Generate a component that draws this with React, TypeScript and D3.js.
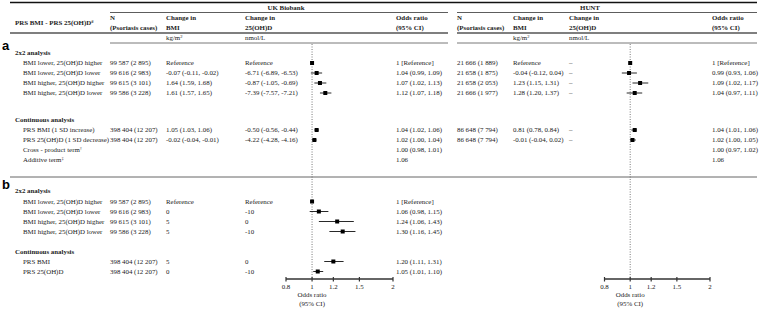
import React from "react";
import * as d3 from "d3";

// ---------- DATA ----------
const labels2x2 = [
  "BMI lower, 25(OH)D higher",
  "BMI lower, 25(OH)D lower",
  "BMI higher, 25(OH)D higher",
  "BMI higher, 25(OH)D lower",
];
const labelsContA = ["PRS BMI (1 SD increase)", "PRS 25(OH)D (1 SD decrease)", "Cross - product term", "Additive term"];
const labelsContASup = ["", "", "†", "‡"];
const labelsContB = ["PRS BMI", "PRS 25(OH)D"];

// Panel a, UK Biobank
const ukN2x2 = ["99 587 (2 895)", "99 616 (2 983)", "99 615 (3 101)", "99 586 (3 228)"];
const ukBmi2x2 = ["Reference", "-0.07 (-0.11, -0.02)", "1.64 (1.59, 1.68)", "1.61 (1.57, 1.65)"];
const ukVitD2x2 = ["Reference", "-6.71 (-6.89, -6.53)", "-0.87 (-1.05, -0.69)", "-7.39 (-7.57, -7.21)"];
const ukOr2x2 = [1, 1.04, 1.07, 1.12];
const ukLo2x2 = [null, 0.99, 1.02, 1.07];
const ukHi2x2 = [null, 1.09, 1.13, 1.18];
const ukOrText2x2 = ["1 [Reference]", "1.04 (0.99, 1.09)", "1.07 (1.02, 1.13)", "1.12 (1.07, 1.18)"];

const ukNCont = ["398 404 (12 207)", "398 404 (12 207)", "", ""];
const ukBmiCont = ["1.05 (1.03, 1.06)", "-0.02 (-0.04, -0.01)", "", ""];
const ukVitDCont = ["-0.50 (-0.56, -0.44)", "-4.22 (-4.28, -4.16)", "", ""];
const ukOrCont = [1.04, 1.02, null, null];
const ukLoCont = [1.02, 1.0, null, null];
const ukHiCont = [1.06, 1.04, null, null];
const ukOrTextCont = ["1.04 (1.02, 1.06)", "1.02 (1.00, 1.04)", "1.00 (0.98, 1.01)", "1.06"];

// Panel a, HUNT
const huntN2x2 = ["21 666 (1 889)", "21 658 (1 875)", "21 658 (2 053)", "21 666 (1 977)"];
const huntBmi2x2 = ["Reference", "-0.04 (-0.12, 0.04)", "1.23 (1.15, 1.31)", "1.28 (1.20, 1.37)"];
const huntVitD2x2 = ["–", "–", "–", "–"];
const huntOr2x2 = [1, 0.99, 1.09, 1.04];
const huntLo2x2 = [null, 0.93, 1.02, 0.97];
const huntHi2x2 = [null, 1.06, 1.17, 1.11];
const huntOrText2x2 = ["1 [Reference]", "0.99 (0.93, 1.06)", "1.09 (1.02, 1.17)", "1.04 (0.97, 1.11)"];

const huntNCont = ["86 648 (7 794)", "86 648 (7 794)", "", ""];
const huntBmiCont = ["0.81 (0.78, 0.84)", "-0.01 (-0.04, 0.02)", "", ""];
const huntVitDCont = ["–", "–", "", ""];
const huntOrCont = [1.04, 1.02, null, null];
const huntLoCont = [1.01, 1.0, null, null];
const huntHiCont = [1.06, 1.05, null, null];
const huntOrTextCont = ["1.04 (1.01, 1.06)", "1.02 (1.00, 1.05)", "1.00 (0.97, 1.02)", "1.06"];

// Panel b (UK Biobank only)
const bN2x2 = ["99 587 (2 895)", "99 616 (2 983)", "99 615 (3 101)", "99 586 (3 228)"];
const bBmi2x2 = ["Reference", "0", "5", "5"];
const bVitD2x2 = ["Reference", "-10", "0", "-10"];
const bOr2x2 = [1, 1.06, 1.24, 1.3];
const bLo2x2 = [null, 0.98, 1.06, 1.16];
const bHi2x2 = [null, 1.15, 1.43, 1.45];
const bOrText2x2 = ["1 [Reference]", "1.06 (0.98, 1.15)", "1.24 (1.06, 1.43)", "1.30 (1.16, 1.45)"];

const bNCont = ["398 404 (12 207)", "398 404 (12 207)"];
const bBmiCont = ["5", "0"];
const bVitDCont = ["0", "-10"];
const bOrCont = [1.2, 1.05];
const bLoCont = [1.11, 1.01];
const bHiCont = [1.31, 1.1];
const bOrTextCont = ["1.20 (1.11, 1.31)", "1.05 (1.01, 1.10)"];

const tickValues = [0.8, 1, 1.2, 1.5, 2];

// ---------- LAYOUT ----------
const W = 765;
const H = 310;
const FONT = "'Liberation Serif', 'Times New Roman', serif";
const FS = 6.9;
const TXT = "#222";

const xUK = d3.scaleLog().domain([0.8, 2]).range([286, 393]);
const xHU = d3.scaleLog().domain([0.8, 2]).range([604.5, 710]);

const rowStep = 10;
const secA2 = { head: 53, first: 63 };
const secAC = { head: 119.5, first: 130 };
const secB2 = { head: 190.5, first: 201.5 };
const secBC = { head: 251.5, first: 261.5 };
const rowY = (sec: { first: number }, i: number) => sec.first + i * rowStep;

const axisY = 279;
const plotTop = 44;

const colUK = { label: 15, rowLabel: 23, n: 110, bmi: 166, vitd: 245, or: 396 };
const colHU = { n: 457, bmi: 513, vitd: 569, or: 712 };

const T = (props: any) => (
  <text fontFamily={FONT} fontSize={FS} fill={TXT} dy="0.35em" {...props} />
);

function Forest({ x, y, or, lo, hi }: { x: any; y: number; or: number | null; lo: number | null; hi: number | null }) {
  if (or == null) return null;
  const s = 4;
  return (
    <g>
      {lo != null && hi != null && (
        <line x1={x(lo)} x2={x(hi)} y1={y} y2={y} stroke="#111" strokeWidth={0.9} />
      )}
      <rect x={x(or) - s / 2} y={y - s / 2} width={s} height={s} fill="#000" />
    </g>
  );
}

function Axis({ x }: { x: any }) {
  const [a, b] = x.domain();
  return (
    <g>
      <line x1={x(a)} x2={x(b)} y1={axisY} y2={axisY} stroke="#333" strokeWidth={1.6} />
      {tickValues.map((t) => (
        <g key={t}>
          <line x1={x(t)} x2={x(t)} y1={axisY - 2} y2={axisY + 2.5} stroke="#333" strokeWidth={1.2} />
          <T x={x(t)} y={axisY + 7.5} textAnchor="middle">{String(t)}</T>
        </g>
      ))}
      <T x={x(1)} y={axisY + 15.5} textAnchor="middle">Odds ratio</T>
      <T x={x(1)} y={axisY + 25} textAnchor="middle">(95% CI)</T>
    </g>
  );
}

function RefLine({ x }: { x: any }) {
  return (
    <line x1={x(1)} x2={x(1)} y1={plotTop} y2={axisY} stroke="#555" strokeWidth={0.8} strokeDasharray="1,1.5" />
  );
}

export default function App() {
  const bold = { fontWeight: "bold" };
  const headY1 = 18;
  const headY2 = 28;
  return (
    <svg
      width={W}
      height={H}
      viewBox={`0 0 ${W} ${H}`}
      style={{ position: "absolute", left: 0, top: 0, background: "#fff" }}
    >
      <rect x={0} y={0} width={W} height={H} fill="#fff" />
      {/* rules */}
      <line x1={10} x2={757} y1={2.5} y2={2.5} stroke="#111" strokeWidth={1.5} />
      <line x1={110} x2={448} y1={12.5} y2={12.5} stroke="#333" strokeWidth={0.8} />
      <line x1={457} x2={757} y1={12.5} y2={12.5} stroke="#333" strokeWidth={0.8} />
      <line x1={10} x2={448} y1={33} y2={33} stroke="#555" strokeWidth={1.5} />
      <line x1={457} x2={757} y1={33} y2={33} stroke="#555" strokeWidth={1.5} />
      <line x1={110} x2={448} y1={43} y2={43} stroke="#555" strokeWidth={0.8} />
      <line x1={457} x2={757} y1={43} y2={43} stroke="#555" strokeWidth={0.8} />
      <line x1={10} x2={757} y1={177} y2={177} stroke="#666" strokeWidth={1} />

      {/* group headers */}
      <T x={286} y={7.5} textAnchor="middle" {...bold}>UK Biobank</T>
      <T x={590} y={7.5} textAnchor="middle" {...bold}>HUNT</T>

      {/* column headers */}
      <T x={colUK.label} y={23} {...bold}>
        PRS BMI - PRS 25(OH)D<tspan fontSize={4.5} dy="-2.5">#</tspan>
      </T>
      {[colUK, colHU].map((c, i) => (
        <g key={i}>
          <T x={c.n} y={headY1} {...bold}>N</T>
          <T x={c.n} y={headY2} {...bold}>(Psoriasis cases)</T>
          <T x={c.bmi} y={headY1} {...bold}>Change in</T>
          <T x={c.bmi} y={headY2} {...bold}>BMI</T>
          <T x={c.vitd} y={headY1} {...bold}>Change in</T>
          <T x={c.vitd} y={headY2} {...bold}>25(OH)D</T>
          <T x={c.or} y={headY1} {...bold}>Odds ratio</T>
          <T x={c.or} y={headY2} {...bold}>(95% CI)</T>
          <T x={c.bmi} y={38}>
            kg/m<tspan fontSize={4.5} dy="-2.5">2</tspan>
          </T>
          <T x={c.vitd} y={38}>nmol/L</T>
        </g>
      ))}

      {/* panel letters */}
      <text x={2} y={49.5} fontFamily="'Liberation Sans', Arial, sans-serif" fontSize={13} fontWeight="bold" fill="#000">a</text>
      <text x={2} y={188.5} fontFamily="'Liberation Sans', Arial, sans-serif" fontSize={13} fontWeight="bold" fill="#000">b</text>

      {/* reference lines */}
      <RefLine x={xUK} />
      <RefLine x={xHU} />

      {/* ----- Panel a: 2x2 ----- */}
      <T x={colUK.label} y={secA2.head} {...bold}>2x2 analysis</T>
      {labels2x2.map((lab, i) => {
        const y = rowY(secA2, i);
        return (
          <g key={"a2" + i}>
            <T x={colUK.rowLabel} y={y}>{lab}</T>
            <T x={colUK.n} y={y}>{ukN2x2[i]}</T>
            <T x={colUK.bmi} y={y}>{ukBmi2x2[i]}</T>
            <T x={colUK.vitd} y={y}>{ukVitD2x2[i]}</T>
            <Forest x={xUK} y={y} or={ukOr2x2[i]} lo={ukLo2x2[i]} hi={ukHi2x2[i]} />
            <T x={colUK.or} y={y}>{ukOrText2x2[i]}</T>
            <T x={colHU.n} y={y}>{huntN2x2[i]}</T>
            <T x={colHU.bmi} y={y}>{huntBmi2x2[i]}</T>
            <T x={colHU.vitd} y={y}>{huntVitD2x2[i]}</T>
            <Forest x={xHU} y={y} or={huntOr2x2[i]} lo={huntLo2x2[i]} hi={huntHi2x2[i]} />
            <T x={colHU.or} y={y}>{huntOrText2x2[i]}</T>
          </g>
        );
      })}

      {/* ----- Panel a: continuous ----- */}
      <T x={colUK.label} y={secAC.head} {...bold}>Continuous analysis</T>
      {labelsContA.map((lab, i) => {
        const y = rowY(secAC, i);
        return (
          <g key={"ac" + i}>
            <T x={colUK.rowLabel} y={y}>
              {lab}
              {labelsContASup[i] && <tspan fontSize={4.5} dy="-2.5">{labelsContASup[i]}</tspan>}
            </T>
            <T x={colUK.n} y={y}>{ukNCont[i]}</T>
            <T x={colUK.bmi} y={y}>{ukBmiCont[i]}</T>
            <T x={colUK.vitd} y={y}>{ukVitDCont[i]}</T>
            <Forest x={xUK} y={y} or={ukOrCont[i]} lo={ukLoCont[i]} hi={ukHiCont[i]} />
            <T x={colUK.or} y={y}>{ukOrTextCont[i]}</T>
            <T x={colHU.n} y={y}>{huntNCont[i]}</T>
            <T x={colHU.bmi} y={y}>{huntBmiCont[i]}</T>
            <T x={colHU.vitd} y={y}>{huntVitDCont[i]}</T>
            <Forest x={xHU} y={y} or={huntOrCont[i]} lo={huntLoCont[i]} hi={huntHiCont[i]} />
            <T x={colHU.or} y={y}>{huntOrTextCont[i]}</T>
          </g>
        );
      })}

      {/* ----- Panel b: 2x2 ----- */}
      <T x={colUK.label} y={secB2.head} {...bold}>2x2 analysis</T>
      {labels2x2.map((lab, i) => {
        const y = rowY(secB2, i);
        return (
          <g key={"b2" + i}>
            <T x={colUK.rowLabel} y={y}>{lab}</T>
            <T x={colUK.n} y={y}>{bN2x2[i]}</T>
            <T x={colUK.bmi} y={y}>{bBmi2x2[i]}</T>
            <T x={colUK.vitd} y={y}>{bVitD2x2[i]}</T>
            <Forest x={xUK} y={y} or={bOr2x2[i]} lo={bLo2x2[i]} hi={bHi2x2[i]} />
            <T x={colUK.or} y={y}>{bOrText2x2[i]}</T>
          </g>
        );
      })}

      {/* ----- Panel b: continuous ----- */}
      <T x={colUK.label} y={secBC.head} {...bold}>Continuous analysis</T>
      {labelsContB.map((lab, i) => {
        const y = rowY(secBC, i);
        return (
          <g key={"bc" + i}>
            <T x={colUK.rowLabel} y={y}>{lab}</T>
            <T x={colUK.n} y={y}>{bNCont[i]}</T>
            <T x={colUK.bmi} y={y}>{bBmiCont[i]}</T>
            <T x={colUK.vitd} y={y}>{bVitDCont[i]}</T>
            <Forest x={xUK} y={y} or={bOrCont[i]} lo={bLoCont[i]} hi={bHiCont[i]} />
            <T x={colUK.or} y={y}>{bOrTextCont[i]}</T>
          </g>
        );
      })}

      {/* axes */}
      <Axis x={xUK} />
      <Axis x={xHU} />
    </svg>
  );
}
